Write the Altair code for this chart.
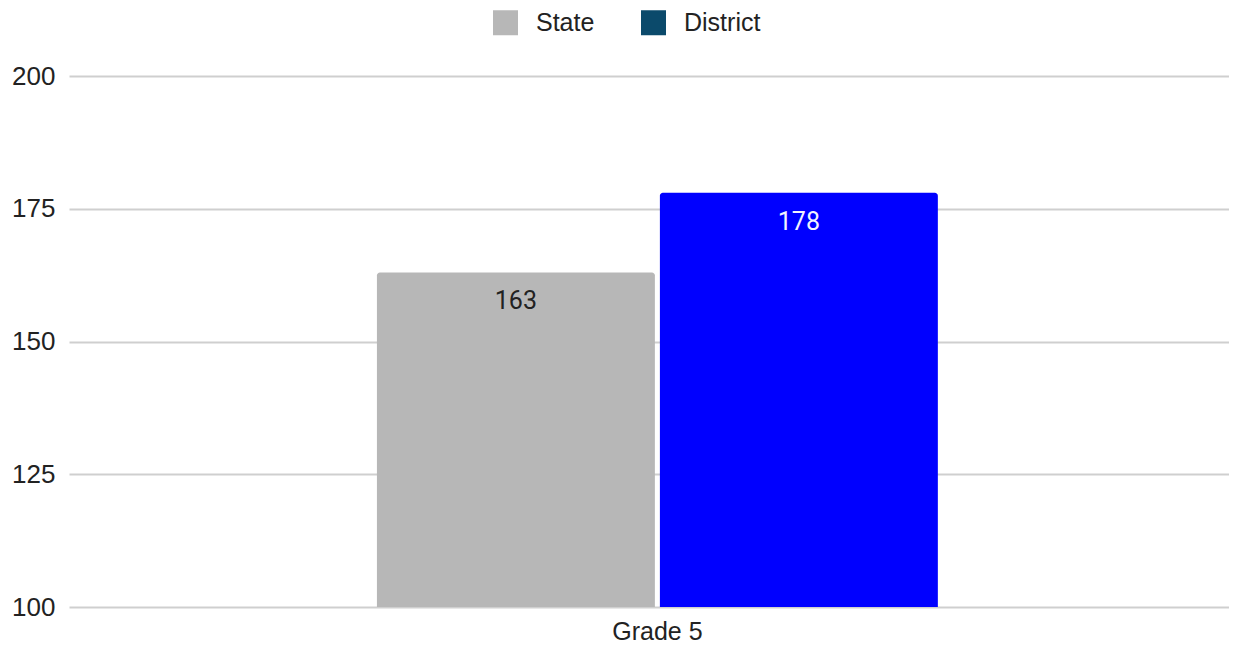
import altair as alt
import pandas as pd

grades = ["Grade 5", "Grade 5"]
series = ["State", "District"]
values = [163, 178]
bar_colors = ["#b7b7b7", "#0000ff"]
legend_colors = ["#b7b7b7", "#0b4a6b"]
y_ticks = [100, 125, 150, 175, 200]
y_base = 100

df = pd.DataFrame({"grade": grades, "series": series, "value": values})

x_enc = alt.X("grade:N", title=None,
              scale=alt.Scale(paddingInner=0, paddingOuter=0.534, align=0.514),
              axis=alt.Axis(labelAngle=0, ticks=False, domain=False, grid=False,
                            labelFont="Liberation Sans", labelFontSize=25,
                            labelColor="#222222", labelPadding=12))
xo_enc = alt.XOffset("series:N", sort=series,
                     scale=alt.Scale(paddingInner=0.0177, paddingOuter=0))
y_enc = alt.Y("value:Q", title=None,
              scale=alt.Scale(domain=[100, 200], zero=False, nice=False),
              axis=alt.Axis(values=y_ticks, ticks=False, domain=False,
                            labelFont="Liberation Sans", labelFontSize=26,
                            labelColor="#222222", labelPadding=14,
                            gridColor="#cfcfcf", gridWidth=2))
y2_enc = alt.datum(y_base)

base = alt.Chart(df)

legend_layer = base.mark_bar(opacity=0).encode(
    x=x_enc, xOffset=xo_enc, y=y_enc, y2=y2_enc,
    color=alt.Color("series:N", sort=series,
                    scale=alt.Scale(domain=series, range=legend_colors),
                    legend=alt.Legend(title=None, orient="none", direction="horizontal",
                                      legendX=424, legendY=-66,
                                      symbolType="square", symbolSize=625,
                                      symbolOpacity=1, symbolStrokeWidth=0,
                                      labelFont="Liberation Sans", labelFontSize=25,
                                      labelColor="#222222", labelOffset=18,
                                      columnPadding=46)),
)

bars = base.mark_bar(cornerRadiusTopLeft=3, cornerRadiusTopRight=3).encode(
    x=x_enc, xOffset=xo_enc, y=y_enc, y2=y2_enc,
    fill=alt.Fill("series:N", sort=series,
                  scale=alt.Scale(domain=series, range=bar_colors), legend=None),
)

labels = base.mark_text(font="Roboto", fontSize=25, baseline="alphabetic", dy=37).encode(
    x=x_enc, xOffset=xo_enc, y=y_enc,
    text=alt.Text("value:Q"),
    fill=alt.condition(alt.datum.series == "District", alt.value("#f2f2ff"), alt.value("#222222")),
)

chart = alt.layer(legend_layer, bars, labels).properties(
    width=1160, height=531,
    autosize=alt.AutoSizeParams(type="none"),
    padding={"left": 61, "top": 68, "right": 0, "bottom": 41},
).configure_view(stroke=None)

chart.save("out.html", embed_options={"renderer": "svg", "actions": False})
